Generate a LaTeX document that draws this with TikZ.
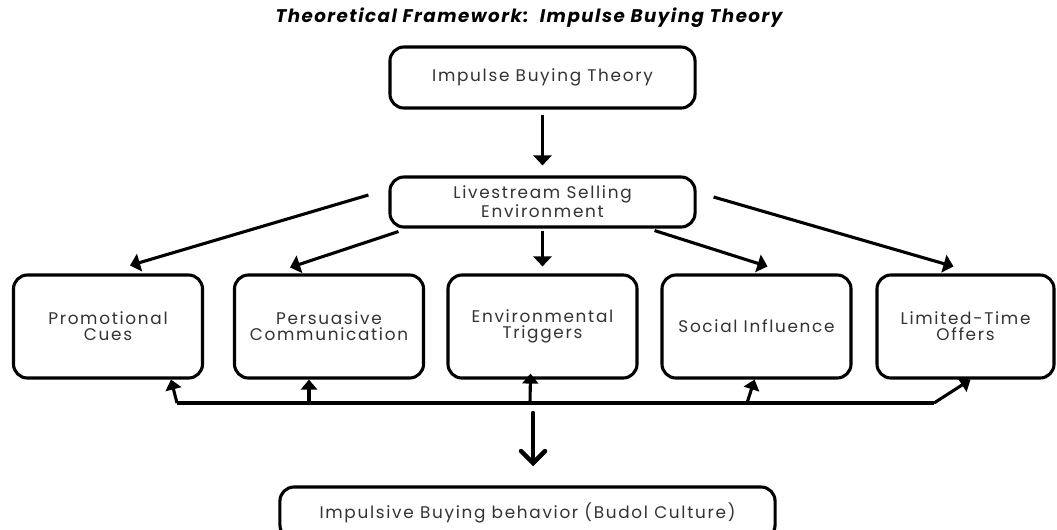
\documentclass[tikz,border=0pt]{standalone}
\usepackage{fontspec}
\setmainfont{Poppins}
\newfontfamily\titlefont[LetterSpace=8]{Poppins}
\newfontfamily\boxfont[LetterSpace=10]{Poppins}
\usetikzlibrary{arrows.meta,calc}

\begin{document}
\begin{tikzpicture}[x=0.025cm, y=-0.025cm,
  box/.style={rectangle, rounded corners=0.35cm, draw=black, line width=2.2pt, fill=white, align=center, text=black!80, font=\boxfont\fontsize{12}{11.2}\selectfont},
  cue/.style={box, minimum width=4.725cm, minimum height=2.575cm},
  arr/.style={line width=2.2pt, -{Triangle[length=0.25cm, width=0.45cm]}},
  uparr/.style={line width=2.2pt, -{Triangle[length=0.25cm, width=0.4cm]}}]
\useasboundingbox (0,0) rectangle (1057,529);
\clip (0,0) rectangle (1057,529);

\node[font=\titlefont\bfseries\itshape\fontsize{13}{14}\selectfont] (title) at (529,18) {Theoretical Framework:\ \ Impulse Buying Theory};

\node[box, minimum width=7.625cm, minimum height=1.525cm] (theory) at (542.5,77.5) {Impulse Buying Theory};
\node[box, minimum width=7.625cm, minimum height=1.25cm] (env) at (542.5,202) {Livestream Selling\\Environment};

\node[cue] (promo) at (108,326.5) {Promotional\\Cues};
\node[cue] (persu) at (329,326.5) {Persuasive\\Communication};
\node[cue] (trig) at (542.5,326.5) {Environmental\\Triggers};
\node[cue] (social) at (756.5,326.5) {Social Influence};
\node[cue, minimum width=4.425cm] (offer) at (965.5,326.5) {Limited-Time\\Offers};

\node[box, minimum width=12.375cm, minimum height=1.3cm] (budol) at (527.5,513) {Impulsive Buying behavior (Budol Culture)};

% theory to environment
\draw[arr, shorten <=0.125cm, shorten >=0.25cm] (theory.south) -- (env.north);

% environment to the five factors
\draw[arr] ($(env.west)+(-20,-7)$) -- ($(promo.north)+(22,-8)$);
\draw[arr] ($(env.south west)+(10,3)$) -- ($(persu.north)+(-39,-6)$);
\draw[arr] ($(env.south)+(0,2)$) -- ($(trig.north)+(0,-7)$);
\draw[arr] ($(env.south east)+(-42,2)$) -- ($(social.north)+(11,-7)$);
\draw[arr] ($(env.east)+(17,-5)$) -- ($(offer.north)+(-12,-7)$);

% bus under the factors
\coordinate (b1) at (177,403);
\coordinate (b2) at (309,403);
\coordinate (b3) at (530,403);
\coordinate (b4) at (747,403);
\coordinate (b5) at (934,403);
\draw[line width=2.2pt] (b1) -- (b5);
\draw[uparr] (b1) -- ($(promo.south)+(63,0)$);
\draw[uparr] (b2) -- ($(persu.south)+(-20,0)$);
\draw[uparr] (b3) -- ($(trig.south)+(-12,-6)$);
\draw[uparr] (b4) -- ($(social.south)+(-2,0)$);
\draw[uparr] (b5) -- ($(offer.south)+(5,0)$);

% down to behaviour
\coordinate (bd) at (533,413);
\draw[line width=3.2pt, line cap=round, -{Straight Barb[length=0.3cm, width=0.6cm, line cap=round]}, shorten >=0.48cm] (bd) -- (budol.north -| bd);
\end{tikzpicture}
\end{document}
